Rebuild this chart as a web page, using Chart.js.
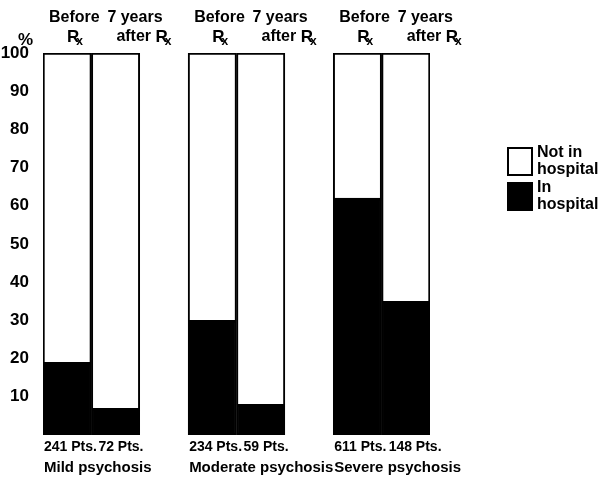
<!DOCTYPE html>
<html>
<head>
<meta charset="utf-8">
<script src="https://cdn.jsdelivr.net/npm/chart.js@4"></script>
<style>
  html, body { margin: 0; padding: 0; background: #fff; }
  #wrap { width: 604px; height: 479px; }
</style>
</head>
<body>
<div id="wrap"><canvas id="myChart" width="604" height="479"></canvas></div>
<script>
// one slot per bar, with an empty slot between groups
const slots = ["mild-before", "mild-after", "", "mod-before", "mod-after", "", "sev-before", "sev-after"];
const groupNames = ["Mild psychosis", "Moderate psychosis", "Severe psychosis"];
const patientCounts = ["241 Pts.", "72 Pts.", "234 Pts.", "59 Pts.", "611 Pts.", "148 Pts."];
const inHospital = [19, 7, null, 30, 8, null, 62, 35];
const notInHospital = [81, 93, null, 70, 92, null, 38, 65];
const yTicks = [10, 20, 30, 40, 50, 60, 70, 80, 90, 100];

const FONT = "'Liberation Sans', Arial, sans-serif";

// texts around the bars: header over each bar, counts + group name under
const annotations = {
  id: "annotations",
  afterDraw(chart) {
    const ctx = chart.ctx;
    const x = chart.scales.x;
    const area = chart.chartArea;
    const half = (x.getPixelForValue(1) - x.getPixelForValue(0)) / 2;
    ctx.save();
    ctx.fillStyle = "#000";
    ctx.textBaseline = "middle";
    ctx.textAlign = "left";

    const rx = (px, py) => {
      ctx.font = "bold 17px " + FONT;
      ctx.fillText("R", px, py);
      const w = ctx.measureText("R").width;
      ctx.font = "bold 12px " + FONT;
      ctx.fillText("x", px + w - 3, py + 5);
    };

    ctx.font = "bold 17px " + FONT;
    ctx.fillText("%", 18, 40);

    const barIdx = [0, 1, 3, 4, 6, 7];
    barIdx.forEach((s, i) => {
      const left = x.getPixelForValue(s) - half;
      ctx.font = "bold 16px " + FONT;
      if (i % 2 === 0) {
        ctx.fillText("Before", left + 6, 18);
        rx(left + 24, 37);
      } else {
        ctx.fillText("7 years", left + 16, 18);
        ctx.fillText("after", left + 25, 37);
        rx(left + 25 + ctx.measureText("after ").width, 37);
      }
      ctx.font = "bold 14px " + FONT;
      ctx.fillText(patientCounts[i], left + (i % 2 === 0 ? 1 : 7), area.bottom + 12);
    });

    groupNames.forEach((g, i) => {
      const left = x.getPixelForValue(i * 3) - half;
      ctx.font = "bold 15px " + FONT;
      ctx.fillText(g, left + 1, area.bottom + 33);
    });

    // legend
    const lx = 508, ly = [148, 183];
    chart.data.datasets.slice().reverse().forEach((ds, i) => {
      ctx.fillStyle = ds.backgroundColor;
      ctx.strokeStyle = "#000";
      ctx.lineWidth = 2;
      ctx.fillRect(lx, ly[i], 24, 27);
      ctx.strokeRect(lx, ly[i], 24, 27);
      ctx.fillStyle = "#000";
      ctx.font = "bold 16px " + FONT;
      const parts = ds.label.split("\n");
      ctx.fillText(parts[0], lx + 29, ly[i] + 5);
      ctx.fillText(parts[1], lx + 29, ly[i] + 22);
    });
    ctx.restore();
  }
};

const data = {
  labels: slots,
  datasets: [
    {
      label: "In\nhospital",
      data: inHospital,
      backgroundColor: "#000",
      borderColor: "#000",
      borderWidth: 2,
      borderSkipped: false,
      barPercentage: 1,
      categoryPercentage: 1
    },
    {
      label: "Not in\nhospital",
      data: notInHospital,
      backgroundColor: "#fff",
      borderColor: "#000",
      borderWidth: 2,
      borderSkipped: "start",
      barPercentage: 1,
      categoryPercentage: 1
    }
  ]
};

const config = {
  type: "bar",
  data,
  plugins: [annotations],
  options: {
    responsive: false,
    animation: false,
    layout: { padding: { top: 53, right: 174, bottom: 44, left: 0 } },
    plugins: { legend: { display: false }, tooltip: { enabled: false } },
    scales: {
      x: { stacked: true, display: false },
      y: {
        stacked: true,
        min: 0,
        max: 100,
        afterFit(scale) { scale.width = 43; },
        afterBuildTicks(scale) { scale.ticks = yTicks.map(v => ({ value: v })); },
        grid: { display: false },
        border: { display: false },
        ticks: {
          color: "#000",
          padding: 6,
          font: { family: FONT, size: 17, weight: "bold" }
        }
      }
    }
  }
};

new Chart(document.getElementById("myChart"), config);
</script>
</body>
</html>
